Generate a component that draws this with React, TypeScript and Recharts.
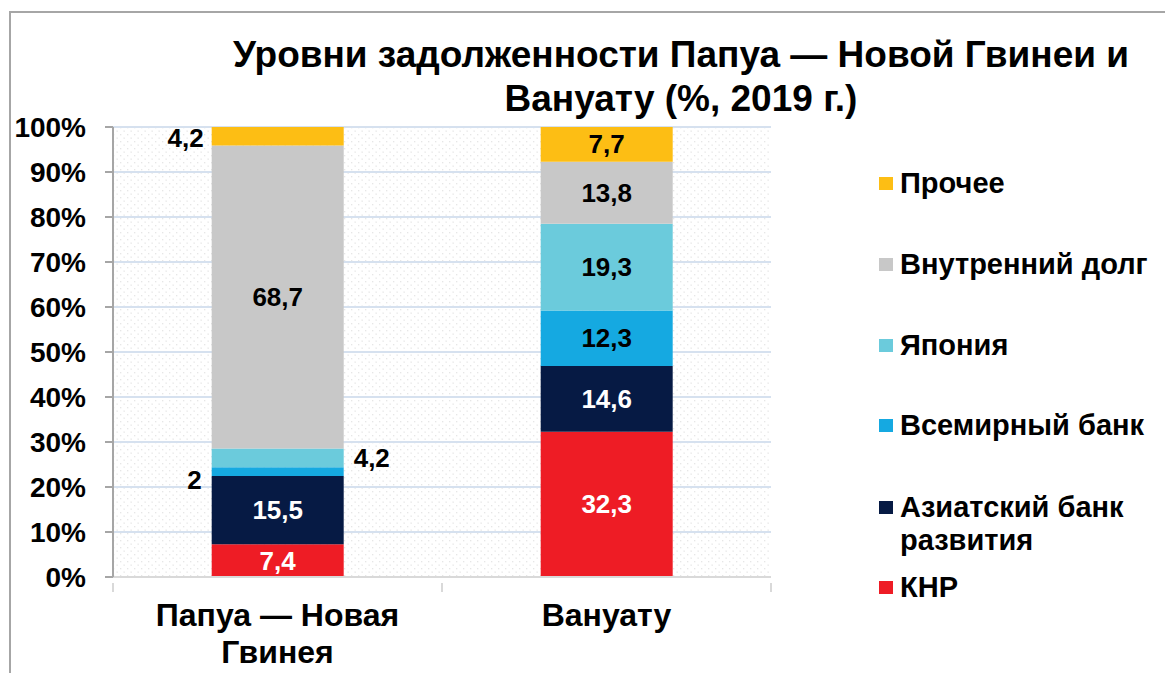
import React from 'react';
import { BarChart, Bar, XAxis, YAxis, CartesianGrid, Legend } from 'recharts';

const categories = ['Папуа — Новая Гвинея', 'Вануату'];
const knr = [7.4, 32.3];
const adb = [15.5, 14.6];
const wb = [2, 12.3];
const japan = [4.2, 19.3];
const domestic = [68.7, 13.8];
const other = [4.2, 7.7];
const yTicks = [0, 0.1, 0.2, 0.3, 0.4, 0.5, 0.6, 0.7, 0.8, 0.9, 1];

const title = ['Уровни задолженности Папуа — Новой Гвинеи и', 'Вануату (%, 2019 г.)'];

const seriesValues: Record<string, number[]> = { knr, adb, wb, japan, domestic, other };

const seriesDefs = [
  { key: 'knr', name: 'КНР', color: '#EE1C25', labelColor: '#ffffff' },
  { key: 'adb', name: 'Азиатский банк развития', color: '#061A44', labelColor: '#ffffff' },
  { key: 'wb', name: 'Всемирный банк', color: '#15A9E1', labelColor: '#000000' },
  { key: 'japan', name: 'Япония', color: '#6BCBDC', labelColor: '#000000' },
  { key: 'domestic', name: 'Внутренний долг', color: '#C8C8C8', labelColor: '#000000' },
  { key: 'other', name: 'Прочее', color: '#FDBE14', labelColor: '#000000' },
];

const data = categories.map((name, i) => ({
  name,
  knr: knr[i],
  adb: adb[i],
  wb: wb[i],
  japan: japan[i],
  domestic: domestic[i],
  other: other[i],
}));

const FONT = '"Liberation Sans", Arial, sans-serif';

// label placement for special (small) segments: per series, per category index
const placements: Record<string, string[]> = {
  other: ['left', 'center'],
  japan: ['right', 'center'],
  wb: ['leftLow', 'center'],
};

const fmt = (v: number) => String(v).replace('.', ',');

const makeLabel = (key: string, color: string) => (props: any) => {
  const { x, y, width, height, index } = props;
  const value = seriesValues[key][index];
  const place = (placements[key] && placements[key][index]) || 'center';
  const cy = Number(y) + Number(height) / 2;
  let tx = Number(x) + Number(width) / 2;
  let anchor: 'middle' | 'start' | 'end' = 'middle';
  let fill = color;
  let ty = cy;
  if (place === 'left') {
    tx = Number(x) - 8;
    anchor = 'end';
    fill = '#000';
    ty = cy + 2;
  } else if (place === 'right') {
    tx = Number(x) + Number(width) + 10;
    anchor = 'start';
    fill = '#000';
  } else if (place === 'leftLow') {
    tx = Number(x) - 10;
    anchor = 'end';
    fill = '#000';
    ty = cy + 8;
  }
  return (
    <text
      x={tx}
      y={ty}
      textAnchor={anchor}
      dominantBaseline="central"
      fill={fill}
      style={{ fontFamily: FONT, fontWeight: 700, fontSize: 26 }}
    >
      {fmt(value)}
    </text>
  );
};

const PLOT_W = 658;

const XTick = (props: any) => {
  const { x, y, payload, index } = props;
  const words = String(payload.value).split(' ');
  const lines: string[] = [];
  let cur = '';
  words.forEach((w) => {
    const t = cur ? cur + ' ' + w : w;
    if (t.length > 14 && cur) {
      lines.push(cur);
      cur = w;
    } else cur = t;
  });
  if (cur) lines.push(cur);
  const band = PLOT_W / categories.length;
  return (
    <g>
      <line x1={x - band / 2} x2={x - band / 2} y1={y} y2={y + 9} stroke="#d9d9d9" strokeWidth={2} />
      {index === categories.length - 1 && (
        <line x1={x + band / 2} x2={x + band / 2} y1={y} y2={y + 9} stroke="#d9d9d9" strokeWidth={2} />
      )}
      <text
        x={x}
        y={y + 43}
        textAnchor="middle"
        fill="#000"
        style={{ fontFamily: FONT, fontWeight: 700, fontSize: 32 }}
      >
        {lines.map((l, i) => (
          <tspan key={i} x={x} dy={i === 0 ? 0 : 37}>
            {l}
          </tspan>
        ))}
      </text>
    </g>
  );
};

const legendTops: Record<string, number[]> = {
  other: [183],
  domestic: [264],
  japan: [345],
  wb: [425],
  adb: [507, 540],
  knr: [587],
};
const legendLines: Record<string, string[]> = {
  adb: ['Азиатский банк', 'развития'],
};

const LegendContent = () => (
  <div style={{ position: 'relative', width: 0, height: 0, overflow: 'visible' }}>
    {seriesDefs.map((s) => {
      const tops = legendTops[s.key];
      const lines = legendLines[s.key] || [s.name];
      return (
        <React.Fragment key={s.key}>
          <div
            style={{
              position: 'absolute',
              left: 0,
              top: tops[0] - 6,
              width: 14,
              height: 13,
              background: s.color,
            }}
          />
          {lines.map((l, i) => (
            <div
              key={i}
              style={{
                position: 'absolute',
                left: 21,
                top: tops[i] - 17,
                height: 34,
                lineHeight: '34px',
                fontFamily: FONT,
                fontWeight: 700,
                fontSize: 29,
                color: '#000',
                whiteSpace: 'nowrap',
              }}
            >
              {l}
            </div>
          ))}
        </React.Fragment>
      );
    })}
  </div>
);

export default function App() {
  return (
    <div
      style={{
        position: 'absolute',
        left: 0,
        top: 0,
        width: 1165,
        height: 673,
        background: '#fff',
        overflow: 'hidden',
      }}
    >
      <svg width={0} height={0} style={{ position: 'absolute' }}>
        <defs>
          <pattern id="dots" width={7} height={7} patternUnits="userSpaceOnUse">
            <rect width={7} height={7} fill="#ffffff" />
            <rect x={1} y={1} width={1.3} height={1.3} fill="#e6e6e6" />
            <rect x={4.5} y={4.5} width={1.3} height={1.3} fill="#e6e6e6" />
          </pattern>
        </defs>
      </svg>
      <div
        style={{
          position: 'absolute',
          left: 9,
          top: 11,
          width: 1200,
          height: 700,
          borderTop: '2px solid #a6a6a6',
          borderLeft: '2px solid #a6a6a6',
        }}
      />
      <div
        style={{
          position: 'absolute',
          left: 181,
          top: 33,
          width: 1000,
          textAlign: 'center',
          fontFamily: FONT,
          fontWeight: 700,
          fontSize: 37,
          lineHeight: '44px',
          color: '#000',
        }}
      >
        {title.map((t, i) => (
          <div key={i}>{t}</div>
        ))}
      </div>
      <div style={{ position: 'absolute', left: 0, top: 0 }}>
        <BarChart
          width={1165}
          height={673}
          data={data}
          stackOffset="expand"
          barCategoryGap="30%"
          margin={{ top: 127, right: 394, bottom: 6, left: 13 }}
        >
          <CartesianGrid
            vertical={false}
            horizontal={true}
            stroke="#d6e1ef"
            strokeWidth={2}
            fill="url(#dots)"
            syncWithTicks
          />
          <XAxis
            dataKey="name"
            height={90}
            axisLine={{ stroke: '#d9d9d9', strokeWidth: 2 }}
            tickLine={false}
            tickMargin={0}
            tick={<XTick />}
            interval={0}
          />
          <YAxis
            width={100}
            domain={[0, 1]}
            ticks={yTicks}
            interval={0}
            tickFormatter={(v: number) => `${Math.round(v * 100)}%`}
            axisLine={{ stroke: '#a6a6a6', strokeWidth: 2 }}
            tickLine={{ stroke: '#a6a6a6', strokeWidth: 2 }}
            tickSize={8}
            tickMargin={19}
            tick={{ fill: '#000', fontFamily: FONT, fontWeight: 700, fontSize: 28 }}
          />
          {seriesDefs.map((s) => (
            <Bar
              key={s.key}
              dataKey={s.key}
              name={s.name}
              stackId="a"
              fill={s.color}
              isAnimationActive={false}
              label={makeLabel(s.key, s.labelColor)}
            />
          ))}
          <Legend
            content={<LegendContent />}
            wrapperStyle={{ position: 'absolute', left: 879, top: 0, width: 0, height: 0 }}
          />
        </BarChart>
      </div>
    </div>
  );
}
